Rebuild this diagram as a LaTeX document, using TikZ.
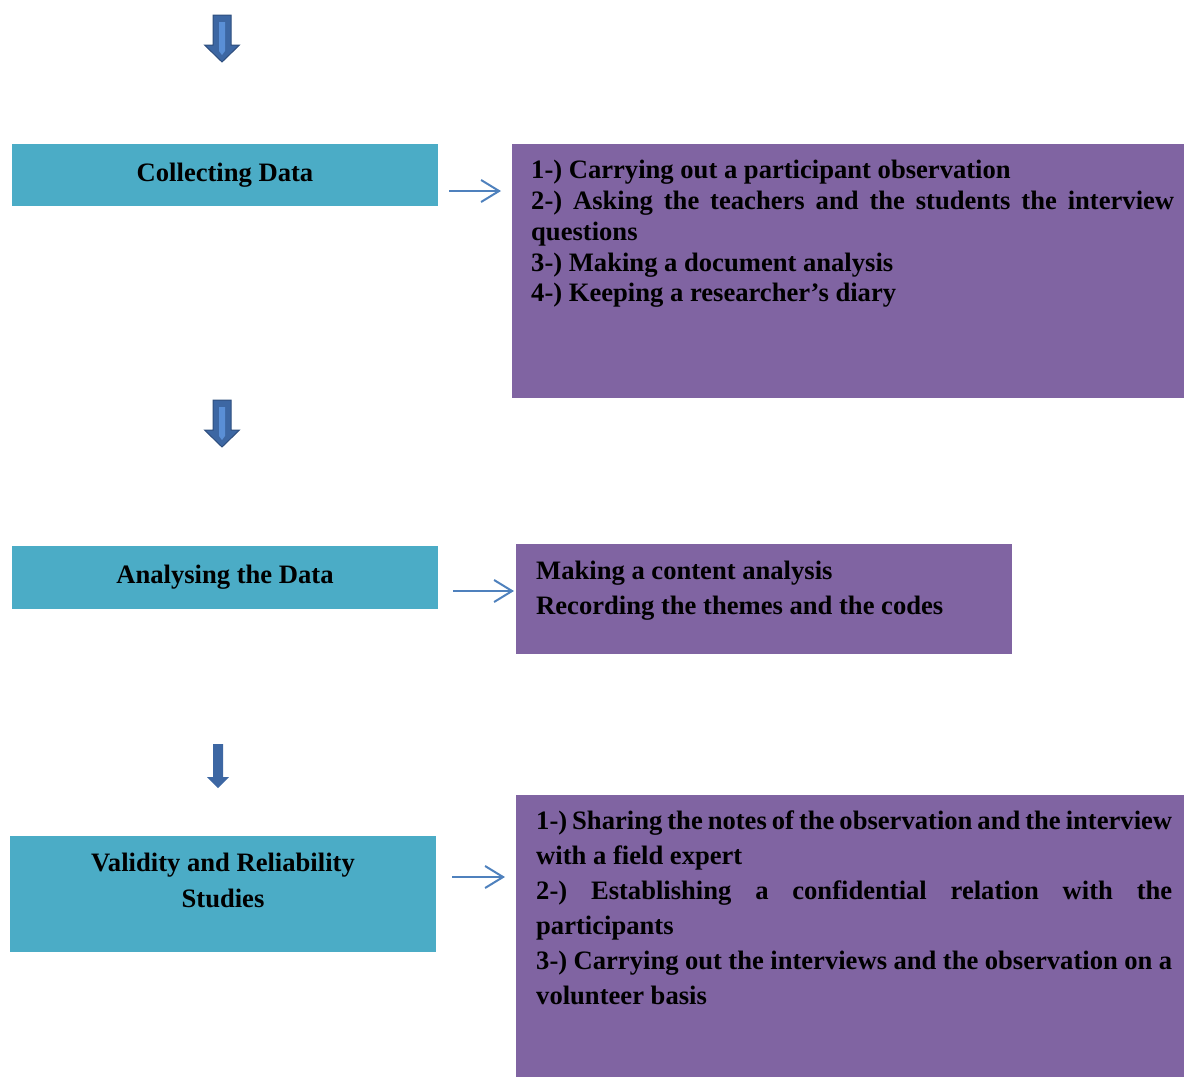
\documentclass[tikz,border=0pt]{standalone}
\usepackage{fontspec}
\setmainfont{Liberation Serif}
\usepackage{tikz}
\usetikzlibrary{positioning,arrows.meta,calc}
\definecolor{stageteal}{HTML}{4BACC6}
\definecolor{notepurple}{HTML}{8064A2}
\definecolor{flowblue}{HTML}{4F81BD}
\definecolor{downblue}{HTML}{3D67A3}
\definecolor{downedge}{HTML}{2E4E7E}
\definecolor{downlight}{HTML}{5A8FD6}
\setlength{\parindent}{0pt}
\setlength{\parskip}{0pt}

\begin{document}
\begin{tikzpicture}[x=1pt, y=-1pt,
    stage/.style={fill=stageteal, minimum width=426pt, align=center, inner sep=0pt,
      font=\bfseries\fontsize{26.6}{36}\selectfont},
    notes/.style={fill=notepurple, anchor=north west, inner sep=0pt, align=left,
      font=\bfseries\fontsize{26.6}{35}\selectfont},
    link/.style={flowblue, line width=2pt, -{Straight Barb[length=18pt,width=22pt,line width=2pt]}}]
    \useasboundingbox (0,0) rectangle (1184,1077);

    % Stages
    \node[stage, minimum height=62pt] (collect) at (225,175) {Collecting Data};
    \node[stage, minimum height=63pt] (analyse) at (225,577.5) {Analysing the Data};
    \node[stage, minimum height=116pt, text depth=28pt] (valid) at (223,894) {Validity and Reliability\\Studies};

    % Notes
    \node[notes, font=\bfseries\fontsize{26.6}{30.8}\selectfont] (collectnotes) at (512,144)
      {\hspace*{19pt}\parbox[c][254pt][t]{643pt}{\vspace*{16pt}%
        1-) Carrying out a participant observation\par
        2-) Asking the teachers and the students the interview\linebreak questions\par
        3-) Making a document analysis\par
        4-) Keeping a researcher's diary}\hspace*{10pt}};
    \node[notes] (analysenotes) at (516,544)
      {\hspace*{20pt}\parbox[c][110pt][t]{456pt}{\vspace*{17pt}%
        Making a content analysis\par
        Recording the themes and the codes}\hspace*{20pt}};
    \node[notes] (validnotes) at (516,795)
      {\hspace*{20pt}\parbox[c][282pt][t]{636pt}{\vspace*{16pt}%
        1-) Sharing the notes of the observation and the interview\linebreak with a field expert\par
        2-) Establishing a confidential relation with the\linebreak participants\par
        3-) Carrying out the interviews and the observation on a\linebreak volunteer basis}\hspace*{12pt}};

    % Links stage -> notes
    \coordinate (collectout) at ($(collect.east)+(11,16)$);
    \coordinate (collectin) at ($(collectnotes.west |- collectout)+(-11,0)$);
    \draw[link] (collectout) -- (collectin);
    \coordinate (analyseout) at ($(analyse.east)+(15,13.5)$);
    \coordinate (analysein) at ($(analysenotes.west |- analyseout)+(-2,0)$);
    \draw[link] (analyseout) -- (analysein);
    \coordinate (validout) at ($(valid.east)+(16,-17)$);
    \coordinate (validin) at ($(validnotes.west |- validout)+(-11,0)$);
    \draw[link] (validout) -- (validin);

    % Down arrows
    \foreach \top in {15,400} {
      \filldraw[fill=downblue, draw=downedge, line width=1pt]
        (213,\top) -- (231,\top) -- (231,\top+30) -- (239.5,\top+30) -- (222,\top+47)
        -- (204.5,\top+30) -- (213,\top+30) -- cycle;
      \fill[downlight] (219,\top+7) -- (225,\top+7) -- (225,\top+36) -- (222,\top+40)
        -- (219,\top+36) -- cycle;
    }
    \fill[downblue] (213,744) -- (223,744) -- (223,777) -- (229,777) -- (218,788)
      -- (207,777) -- (213,777) -- cycle;
\end{tikzpicture}
\end{document}
